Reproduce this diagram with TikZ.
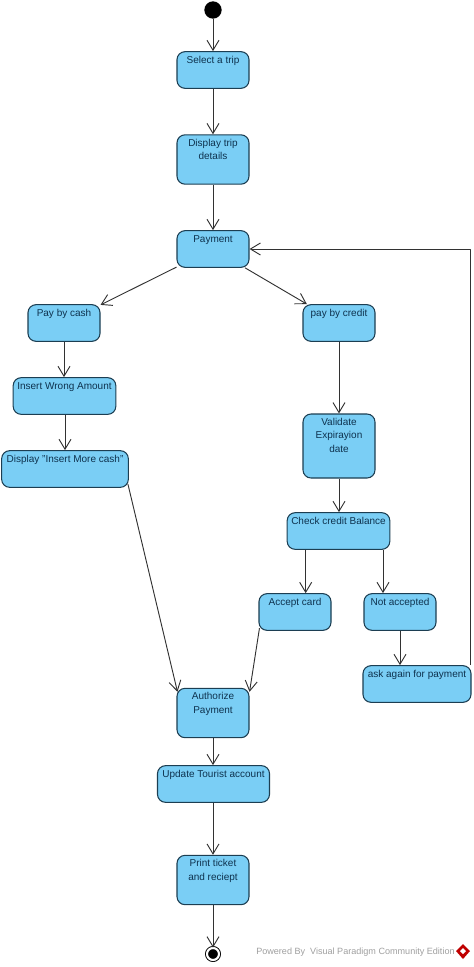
\documentclass[tikz,border=0pt]{standalone}
\usepackage{fontspec}
\setmainfont{Liberation Sans}
\usetikzlibrary{arrows.meta}
\definecolor{statefill}{RGB}{122,206,245}
\definecolor{stateline}{RGB}{28,62,82}
\definecolor{statetext}{RGB}{14,50,78}
\definecolor{flowline}{RGB}{50,50,50}
\tikzset{
	state/.style={draw=stateline,fill=statefill,text=statetext,rounded corners=6pt,line width=0.8pt,
		align=center,inner xsep=0pt,inner ysep=2pt,font=\fontsize{7.5}{10}\selectfont},
	onerow/.style={state,text height=6.5pt,text depth=17pt},
	tworow/.style={state,text height=16.5pt,text depth=16.5pt},
	threerow/.style={state,text height=26.5pt,text depth=17.5pt},
	flow/.style={->,draw=flowline,line width=0.7pt},
	startstate/.style={circle,fill=black,inner sep=0pt,minimum size=13pt},
	endstate/.style={circle,draw=black,fill=black,double=white,double distance=1.6pt,line width=0.7pt,inner sep=0pt,minimum size=9pt},
}
\begin{document}
\begin{tikzpicture}[x=0.75pt,y=-0.75pt,>={Straight Barb[length=7.5pt,width=9pt]}, line join=round]
	\useasboundingbox (0,0) rectangle (474,967);
	\def\wide{54pt}
	% Left and centre
	\node[startstate] (start) at (213,10) {};
	\node[onerow,minimum width=\wide] (trip) at (213,70) {Select a trip};
	\node[tworow,minimum width=\wide] (details) at (213,159.5) {Display trip\\details};
	\node[onerow,minimum width=\wide] (payment) at (213,249) {Payment};
	\node[onerow,minimum width=\wide] (cash) at (64,323) {Pay by cash};
	\node[onerow,minimum width=77pt] (wrong) at (64.5,396) {Insert Wrong Amount};
	\node[onerow,minimum width=95pt] (more) at (65,469) {Display "Insert More cash"};
	% Right
	\node[onerow,minimum width=\wide] (credit) at (339,323) {pay by credit};
	\node[threerow,minimum width=\wide] (expiry) at (339,446) {Validate\\Expirayion\\date};
	\node[onerow,minimum width=77pt] (balance) at (338.5,531) {Check credit Balance};
	\node[onerow,minimum width=\wide] (accept) at (295,612) {Accept card};
	\node[onerow,minimum width=\wide] (reject) at (400,612) {Not accepted};
	\node[onerow,minimum width=81pt] (again) at (417,684) {ask again for payment};
	% Bottom
	\node[tworow,minimum width=\wide] (authorize) at (213,713) {Authorize\\Payment};
	\node[onerow,minimum width=84pt] (tourist) at (213.5,784) {Update Tourist account};
	\node[tworow,minimum width=\wide] (ticket) at (213,880) {Print ticket\\and reciept};
	\node[endstate] (end) at (213,954) {};
	\coordinate (acceptin) at ([xshift=8pt]accept.north);
	\coordinate (rejectin) at ([xshift=-12.75pt]reject.north);
	\draw[flow] (start)--(trip);
	\draw[flow] (trip)--(details);
	\draw[flow] (details)--(payment);
	\draw[flow] (payment)--(cash);
	\draw[flow] (payment)--(credit);
	\draw[flow] (cash.south)--(cash.south |- wrong.north);
	\draw[flow] (more.north |- wrong.south)--(more.north);
	\draw[flow] (credit)--(expiry);
	\draw[flow] (expiry.south)--(expiry.south |- balance.north);
	\draw[flow] (balance.south -| acceptin)--(acceptin);
	\draw[flow] (balance.south -| rejectin)--(rejectin);
	\draw[flow] (reject.south)--(reject.south |- again.north);
	\draw[flow] ([xshift=-0.5pt]again.north east) |- (payment.east);
	\draw[flow] ([xshift=-0.75pt,yshift=3pt]more.south east)--([xshift=0.75pt,yshift=-3pt]authorize.north west);
	\draw[flow] ([xshift=0.75pt,yshift=2pt]accept.south west)--([yshift=-3pt]authorize.north east);
	\draw[flow] (authorize.south)--(authorize.south |- tourist.north);
	\draw[flow] (authorize.south |- tourist.south)--(ticket.north);
	\draw[flow] (ticket)--(end);
	% Watermark
	\node[anchor=west,inner sep=0pt,text=gray!75,font=\fontsize{6.8}{8}\selectfont] (mark) at (256,952) {Powered By\ \ Visual Paradigm Community Edition};
	\fill[red!75!black] (463,944)--(470,951)--(463,959)--(456,951)--cycle;
	\fill[white] (463,948)--(466,951)--(463,954)--(460,951)--cycle;
\end{tikzpicture}
\end{document}
